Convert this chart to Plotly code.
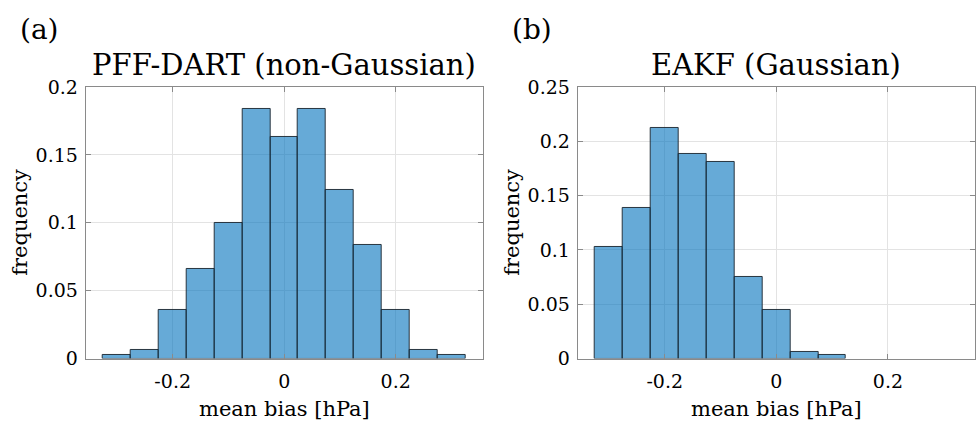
import plotly.graph_objects as go

# ---- data ----
bin_centers = [-0.30, -0.25, -0.20, -0.15, -0.10, -0.05, 0.00, 0.05, 0.10, 0.15, 0.20, 0.25, 0.30]
bin_width = 0.05
freq_pff = [0.003, 0.006, 0.036, 0.066, 0.100, 0.184, 0.163, 0.184, 0.124, 0.084, 0.036, 0.006, 0.003]
freq_eakf = [0.103, 0.139, 0.212, 0.188, 0.181, 0.075, 0.045, 0.006, 0.003, 0.0, 0.0, 0.0, 0.0]
x_tickvals = [-0.2, 0.0, 0.2]
x_ticktext = ["-0.2", "0", "0.2"]
y1_tickvals = [0, 0.05, 0.1, 0.15, 0.2]
y1_ticktext = ["0", "0.05", "0.1", "0.15", "0.2"]
y2_tickvals = [0, 0.05, 0.1, 0.15, 0.2, 0.25]
y2_ticktext = ["0", "0.05", "0.1", "0.15", "0.2", "0.25"]
titles = ["PFF-DART (non-Gaussian)", "EAKF (Gaussian)"]
panel_labels = ["(a)", "(b)"]

W, H = 980, 438
FONT = "DejaVu Serif, Liberation Serif, serif"
fill = "rgba(0,114,189,0.6)"
edge = "rgba(25,35,45,0.9)"
axis_col = "#8a8a8a"
grid_col = "#e3e3e3"


def edge_widths(vals):
    return [1 if v > 0 else 0 for v in vals]


fig = go.Figure()
fig.add_trace(go.Bar(x=bin_centers, y=freq_pff, width=bin_width,
                     marker=dict(color=fill, line=dict(color=edge, width=edge_widths(freq_pff))),
                     xaxis="x", yaxis="y", showlegend=False))
fig.add_trace(go.Bar(x=bin_centers, y=freq_eakf, width=bin_width,
                     marker=dict(color=fill, line=dict(color=edge, width=edge_widths(freq_eakf))),
                     xaxis="x2", yaxis="y2", showlegend=False))

ydom = [1 - 366 / H, 1 - 80 / H]
x1dom = [85.7 / W, 482.7 / W]
x2dom = [577.7 / W, 975 / W]

common_x = dict(range=[-0.356, 0.356], tickvals=x_tickvals, ticktext=x_ticktext,
                showgrid=True, gridcolor=grid_col, zeroline=False,
                showline=True, linecolor=axis_col, linewidth=1, mirror="ticks",
                ticks="inside", ticklen=5, tickcolor=axis_col, ticklabelstandoff=6,
                tickfont=dict(family=FONT, size=19, color="black"))
common_y = dict(showgrid=True, gridcolor=grid_col, zeroline=False,
                showline=True, linecolor=axis_col, linewidth=1, mirror="ticks",
                ticks="inside", ticklen=5, tickcolor=axis_col, ticklabelstandoff=3,
                tickfont=dict(family=FONT, size=19, color="black"))

fig.update_layout(
    width=W, height=H, margin=dict(l=0, r=0, t=0, b=0),
    paper_bgcolor="white", plot_bgcolor="white",
    bargap=0,
    xaxis=dict(domain=x1dom, anchor="y", **common_x),
    yaxis=dict(domain=ydom, anchor="x", range=[0, 0.2], tickvals=y1_tickvals,
               ticktext=y1_ticktext, **common_y),
    xaxis2=dict(domain=x2dom, anchor="y2", **common_x),
    yaxis2=dict(domain=ydom, anchor="x2", range=[0, 0.25], tickvals=y2_tickvals,
                ticktext=y2_ticktext, **common_y),
)

ann = []
for dom, t, lab, ylabx in [(x1dom, titles[0], panel_labels[0], 20 / W),
                           (x2dom, titles[1], panel_labels[1], 512 / W)]:
    cx = (dom[0] + dom[1]) / 2
    ann.append(dict(text=t, x=cx, y=1 - 57 / H, xref="paper", yref="paper",
                    xanchor="center", yanchor="middle", showarrow=False,
                    font=dict(family=FONT, size=29, color="black")))
    ann.append(dict(text=lab, x=dom[0] - 68 / W, y=1 - 19 / H, xref="paper", yref="paper",
                    xanchor="left", yanchor="middle", showarrow=False,
                    font=dict(family=FONT, size=28, color="black")))
    ann.append(dict(text="mean bias [hPa]", x=cx, y=1 - 419 / H, xref="paper", yref="paper",
                    xanchor="center", yanchor="middle", showarrow=False,
                    font=dict(family=FONT, size=21, color="black")))
    ann.append(dict(text="frequency", x=ylabx, y=(ydom[0] + ydom[1]) / 2, xref="paper",
                    yref="paper", xanchor="center", yanchor="middle", textangle=-90,
                    showarrow=False, font=dict(family=FONT, size=21, color="black")))
fig.update_layout(annotations=ann)

fig.write_html("out.html")
